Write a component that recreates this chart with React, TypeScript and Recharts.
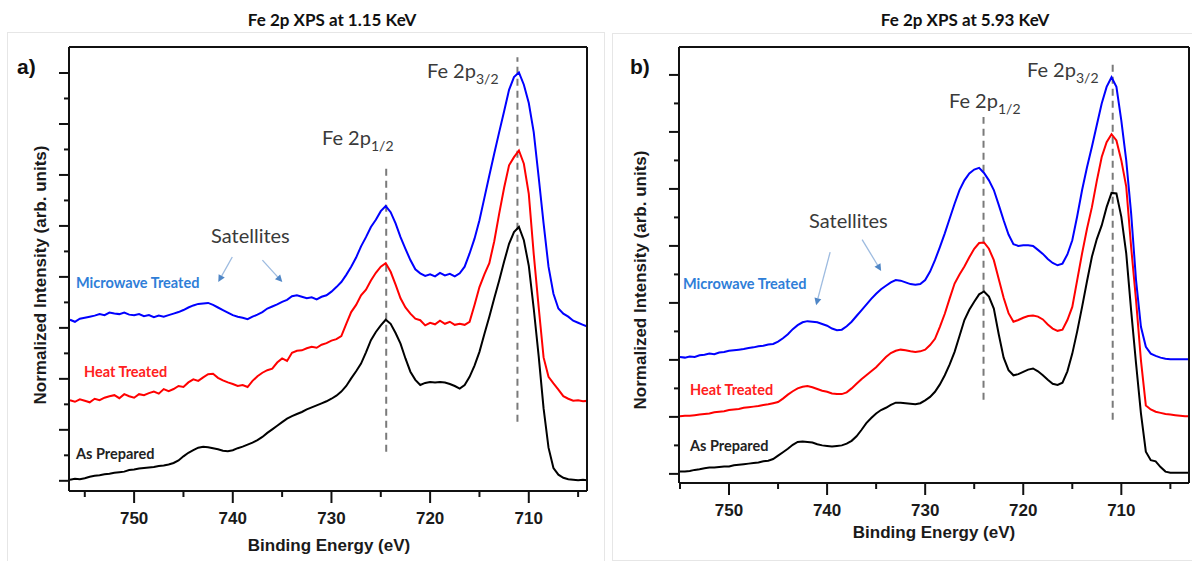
import { LineChart, Line, XAxis, YAxis, ReferenceLine } from 'recharts'

// panel a) : Fe 2p XPS at 1.15 KeV
const energyA = [
  756.5, 756, 755.5, 755, 754.5, 754, 753.5, 753, 752.5, 752,
  751.5, 751, 750.5, 750, 749.5, 749, 748.5, 748, 747.5, 747,
  746.5, 746, 745.5, 745, 744.5, 744, 743.5, 743, 742.5, 742,
  741.5, 741, 740.5, 740, 739.5, 739, 738.5, 738, 737.5, 737,
  736.5, 736, 735.5, 735, 734.5, 734, 733.5, 733, 732.5, 732,
  731.5, 731, 730.5, 730, 729.5, 729, 728.5, 728, 727.5, 727,
  726.5, 726, 725.5, 725, 724.5, 724, 723.5, 723, 722.5, 722,
  721.5, 721, 720.5, 720, 719.5, 719, 718.5, 718, 717.5, 717,
  716.5, 716, 715.5, 715, 714.5, 714, 713.5, 713, 712.5, 712,
  711.5, 711, 710.5, 710, 709.5, 709, 708.5, 708, 707.5, 707,
  706.5, 706, 705.5, 705, 704.5, 704,
]
const microwaveA = [
  3.16, 3.12, 3.18, 3.2, 3.22, 3.24, 3.27, 3.25, 3.3, 3.28,
  3.27, 3.3, 3.26, 3.25, 3.27, 3.23, 3.25, 3.21, 3.24, 3.22,
  3.25, 3.28, 3.31, 3.35, 3.4, 3.44, 3.47, 3.48, 3.49, 3.45,
  3.4, 3.35, 3.3, 3.25, 3.22, 3.2, 3.17, 3.22, 3.26, 3.31,
  3.38, 3.42, 3.46, 3.51, 3.55, 3.62, 3.64, 3.61, 3.58, 3.6,
  3.56, 3.61, 3.64, 3.71, 3.8, 3.9, 4.04, 4.2, 4.38, 4.6,
  4.78, 4.98, 5.12, 5.29, 5.39, 5.27, 5.05, 4.78, 4.55, 4.33,
  4.15, 4.07, 4.02, 4.05, 4.01, 4.08, 4.03, 4.06, 4.01, 4.07,
  4.2, 4.46, 4.75, 5.11, 5.55, 5.99, 6.42, 6.84, 7.25, 7.67,
  7.92, 8.01, 7.77, 7.41, 6.84, 5.96, 5.05, 4.2, 3.67, 3.38,
  3.28, 3.22, 3.14, 3.1, 3.06, 3.02,
]
const heatA = [
  1.58, 1.55, 1.6, 1.57, 1.54, 1.61, 1.58, 1.63, 1.66, 1.68,
  1.62, 1.7, 1.66, 1.63, 1.7, 1.68, 1.72, 1.75, 1.71, 1.8,
  1.76, 1.8, 1.86, 1.84, 1.93, 1.99, 1.96, 2.03, 2.09, 2.1,
  2.02, 1.97, 1.93, 1.9, 1.86, 1.88, 1.84, 1.96, 2.05, 2.12,
  2.17, 2.2, 2.32, 2.4, 2.35, 2.51, 2.55, 2.56, 2.6, 2.63,
  2.61, 2.67, 2.7, 2.75, 2.78, 2.84, 3.08, 3.31, 3.45, 3.64,
  3.75, 3.93, 4.08, 4.2, 4.27, 4.1, 3.85, 3.58, 3.4, 3.28,
  3.18, 3.15, 3.05, 3.1, 3.07, 3.14, 3.08, 3.12, 3.06, 3.08,
  3.06, 3.12, 3.45, 3.8, 4.05, 4.27, 4.7, 5.24, 5.75, 6.19,
  6.35, 6.48, 6.22, 5.63, 4.45, 3.41, 2.42, 2.04, 1.91, 1.79,
  1.66, 1.61, 1.57, 1.58, 1.56, 1.57,
]
const preparedA = [
  0.02, 0.04, 0.03, 0.05, 0.08, 0.1, 0.11, 0.13, 0.14, 0.16,
  0.17, 0.18, 0.21, 0.22, 0.24, 0.25, 0.26, 0.27, 0.29, 0.3,
  0.32, 0.35, 0.4, 0.48, 0.55, 0.6, 0.65, 0.67, 0.66, 0.64,
  0.62, 0.59, 0.58, 0.6, 0.64, 0.67, 0.71, 0.75, 0.8, 0.86,
  0.94, 1.01, 1.08, 1.15, 1.22, 1.27, 1.31, 1.35, 1.4, 1.44,
  1.48, 1.52, 1.56, 1.61, 1.67, 1.75, 1.86, 2.01, 2.15, 2.3,
  2.52, 2.76, 2.92, 3.05, 3.16, 3.08, 2.9, 2.69, 2.4, 2.14,
  1.98, 1.88, 1.92, 1.94, 1.93, 1.94, 1.93, 1.9, 1.86, 1.81,
  1.88, 2.04, 2.26, 2.53, 2.88, 3.22, 3.58, 3.93, 4.3, 4.65,
  4.88, 4.98, 4.72, 4.22, 3.38, 2.45, 1.42, 0.65, 0.25, 0.12,
  0.06, 0.03, 0.02, 0.01, 0.02, 0.01,
]

// panel b) : Fe 2p XPS at 5.93 KeV
const energyB = [
  755, 754.5, 754, 753.5, 753, 752.5, 752, 751.5, 751, 750.5,
  750, 749.5, 749, 748.5, 748, 747.5, 747, 746.5, 746, 745.5,
  745, 744.5, 744, 743.5, 743, 742.5, 742, 741.5, 741, 740.5,
  740, 739.5, 739, 738.5, 738, 737.5, 737, 736.5, 736, 735.5,
  735, 734.5, 734, 733.5, 733, 732.5, 732, 731.5, 731, 730.5,
  730, 729.5, 729, 728.5, 728, 727.5, 727, 726.5, 726, 725.5,
  725, 724.5, 724, 723.5, 723, 722.5, 722, 721.5, 721, 720.5,
  720, 719.5, 719, 718.5, 718, 717.5, 717, 716.5, 716, 715.5,
  715, 714.5, 714, 713.5, 713, 712.5, 712, 711.5, 711, 710.5,
  710, 709.5, 709, 708.5, 708, 707.5, 707, 706.5, 706, 705.5,
  705, 704.5, 704, 703.5, 703,
]
const microwaveB = [
  2.05, 2.04, 2.06, 2.05, 2.08, 2.09, 2.11, 2.1, 2.13, 2.14,
  2.16, 2.17, 2.18, 2.19, 2.21, 2.22, 2.24, 2.25, 2.27, 2.28,
  2.32, 2.38, 2.45, 2.54, 2.61, 2.66, 2.68, 2.67, 2.66, 2.63,
  2.6, 2.55, 2.52, 2.53, 2.59, 2.67, 2.77, 2.87, 2.97, 3.07,
  3.16, 3.24, 3.3, 3.36, 3.4, 3.39, 3.36, 3.33, 3.32, 3.33,
  3.4, 3.55, 3.75, 3.98, 4.22, 4.48, 4.74, 4.98, 5.15, 5.27,
  5.34, 5.37, 5.28, 5.15, 4.98, 4.72, 4.45, 4.2, 4.03, 4.0,
  4.01, 4.01, 4.0, 3.93, 3.86, 3.77, 3.7, 3.66, 3.69, 3.85,
  4.1, 4.52, 4.98, 5.38, 5.74, 6.12, 6.5, 6.79, 6.96, 6.79,
  6.2, 5.5, 4.57, 3.4, 2.58, 2.23, 2.11, 2.07, 2.04, 2.02,
  2.01, 2.01, 2.01, 2.01, 2.01,
]
const heatB = [
  1.01, 1.02, 1.02, 1.03, 1.04, 1.05, 1.06, 1.08, 1.09, 1.1,
  1.12, 1.13, 1.14, 1.16, 1.17, 1.18, 1.19, 1.21, 1.22, 1.24,
  1.26, 1.32, 1.39, 1.45, 1.5, 1.53, 1.54, 1.52, 1.49, 1.46,
  1.44, 1.41, 1.4, 1.4, 1.43, 1.5, 1.58, 1.66, 1.73, 1.8,
  1.87, 1.96, 2.05, 2.12, 2.16, 2.18, 2.17, 2.15, 2.14, 2.15,
  2.18, 2.26, 2.37, 2.58, 2.81, 3.08, 3.34, 3.5, 3.64, 3.8,
  3.95, 4.05, 4.06, 3.95, 3.75, 3.42, 3.09, 2.82, 2.67, 2.7,
  2.74, 2.77, 2.78, 2.76, 2.71, 2.62, 2.55, 2.51, 2.53, 2.7,
  2.93, 3.4, 3.87, 4.3, 4.68, 5.14, 5.56, 5.82, 5.96, 5.85,
  5.5, 5.04, 3.98, 3.05, 1.99, 1.2, 1.13, 1.09, 1.07, 1.05,
  1.04, 1.03, 1.02, 1.01, 1.01,
]
const preparedB = [
  0.04, 0.04, 0.05, 0.07, 0.08, 0.1, 0.11, 0.11, 0.12, 0.13,
  0.13, 0.15, 0.16, 0.17, 0.18, 0.19, 0.2, 0.22, 0.23, 0.26,
  0.32, 0.38, 0.44, 0.51, 0.56, 0.57, 0.56, 0.55, 0.52, 0.5,
  0.49, 0.48, 0.49, 0.5, 0.53, 0.58, 0.66, 0.77, 0.89, 0.98,
  1.06, 1.12, 1.16, 1.21, 1.25, 1.25, 1.24, 1.23, 1.22, 1.24,
  1.29, 1.35, 1.44, 1.57, 1.73, 1.92, 2.14, 2.42, 2.7, 2.88,
  3.02, 3.15, 3.2, 3.11, 2.9, 2.45, 2.04, 1.82, 1.73, 1.75,
  1.79, 1.83, 1.85, 1.8, 1.73, 1.65, 1.58, 1.56, 1.6, 1.8,
  2.11, 2.5, 2.93, 3.38, 3.81, 4.12, 4.36, 4.68, 4.93, 4.92,
  4.51, 3.87, 2.87, 1.94, 1.06, 0.39, 0.24, 0.22, 0.12, 0.04,
  0.02, 0.02, 0.02, 0.02, 0.02,
]

const xTicks = [755, 750, 745, 740, 735, 730, 725, 720, 715, 710, 705]
const yTicksA = [0, 0.5, 1, 1.5, 2, 2.5, 3, 3.5, 4, 4.5, 5, 5.5, 6, 6.5, 7, 7.5, 8]
const yTicksB = [0, 0.5, 1, 1.5, 2, 2.5, 3, 3.5, 4, 4.5, 5, 5.5, 6, 6.5, 7]

// dashed peak markers (energy, bottom, top) and satellite arrows
const peakLinesA = [{ e: 724.45, y0: 0.57, y1: 6.2 }, { e: 711.15, y0: 1.16, y1: 8.31 }]
const peakLinesB = [{ e: 724.05, y0: 1.3, y1: 6.26 }, { e: 710.88, y0: 0.95, y1: 7.26 }]
const arrowsA = [
  { e0: 740.05, y0: 4.39, e1: 741.47, y1: 3.9 },
  { e0: 737.0, y0: 4.33, e1: 734.98, y1: 3.9 },
]
const arrowsB = [
  { e0: 739.69, y0: 3.89, e1: 741.12, y1: 2.96 },
  { e0: 736.43, y0: 4.11, e1: 734.49, y1: 3.56 },
]

const toRows = (e: number[], mw: number[], ht: number[], ap: number[]) =>
  e.map((v, i) => ({ e: v, mw: mw[i], ht: ht[i], ap: ap[i] }))

const AXIS = '#111'
const ARIAL = '"Liberation Sans", Arial, sans-serif'
const CAL = 'Lato, "Open Sans", sans-serif'

const XTick = (props: any) => {
  const { x, y, payload } = props
  const major = payload.value % 10 === 0
  return (
    <g>
      <line x1={x} x2={x} y1={y} y2={y + (major ? 12 : 6)} stroke={AXIS} strokeWidth={2} />
      {major && (
        <text x={x} y={y + 33} textAnchor="middle" fontSize={17} fontWeight="bold" fontFamily={ARIAL} fill="#1a1a1a">
          {payload.value}
        </text>
      )}
    </g>
  )
}

const YTick = (props: any) => {
  const { x, y, payload } = props
  const major = Number.isInteger(payload.value)
  return <line x1={x - (major ? 10 : 5)} x2={x} y1={y} y2={y} stroke={AXIS} strokeWidth={2} />
}

const Arrow = (p: any) => {
  const { x1, y1, x2, y2 } = p
  const a = Math.atan2(y2 - y1, x2 - x1)
  const L = 7
  const W = 3.5
  const bx = x2 - L * Math.cos(a)
  const by = y2 - L * Math.sin(a)
  const pts = `${x2},${y2} ${bx - W * Math.sin(a)},${by + W * Math.cos(a)} ${bx + W * Math.sin(a)},${by - W * Math.cos(a)}`
  return (
    <g>
      <line x1={x1} y1={y1} x2={bx} y2={by} stroke="#9dbbe0" strokeWidth={1.3} />
      <polygon points={pts} fill="#4f86c6" />
    </g>
  )
}

function Panel(props: {
  rows: any[]
  xDomain: [number, number]
  yDomain: [number, number]
  yTicks: number[]
  peaks: { e: number; y0: number; y1: number }[]
  arrows: { e0: number; y0: number; e1: number; y1: number }[]
  width: number
  margin: { top: number; right: number; bottom: number; left: number }
}) {
  const { rows, xDomain, yDomain, yTicks, peaks, arrows, width, margin } = props
  return (
    <LineChart width={width} height={561} data={rows} margin={margin}>
      <XAxis
        dataKey="e"
        type="number"
        domain={xDomain}
        reversed
        allowDataOverflow
        ticks={xTicks}
        interval={0}
        height={1}
        tickSize={0}
        tickMargin={0}
        tickLine={false}
        tick={<XTick />}
        axisLine={{ stroke: AXIS, strokeWidth: 2 }}
      />
      <XAxis
        xAxisId="top"
        orientation="top"
        type="number"
        domain={xDomain}
        height={1}
        tick={false}
        tickLine={false}
        axisLine={{ stroke: AXIS, strokeWidth: 2 }}
      />
      <YAxis
        type="number"
        domain={yDomain}
        allowDataOverflow
        ticks={yTicks}
        interval={0}
        width={1}
        tickSize={0}
        tickMargin={0}
        tickLine={false}
        tick={<YTick />}
        axisLine={{ stroke: AXIS, strokeWidth: 2 }}
      />
      <YAxis
        yAxisId="right"
        orientation="right"
        type="number"
        domain={yDomain}
        width={1}
        tick={false}
        tickLine={false}
        axisLine={{ stroke: AXIS, strokeWidth: 2 }}
      />
      {peaks.map((p, i) => (
        <ReferenceLine
          key={`pk-${i}`}
          segment={[{ x: p.e, y: p.y0 }, { x: p.e, y: p.y1 }]}
          stroke="#7a7a7a"
          strokeWidth={2}
          strokeDasharray="7 5"
        />
      ))}
      {arrows.map((a, i) => (
        <ReferenceLine
          key={`ar-${i}`}
          segment={[{ x: a.e0, y: a.y0 }, { x: a.e1, y: a.y1 }]}
          shape={Arrow}
        />
      ))}
      <Line dataKey="ap" stroke="#000000" strokeWidth={2} dot={false} isAnimationActive={false} />
      <Line dataKey="ht" stroke="#ff0000" strokeWidth={2} dot={false} isAnimationActive={false} />
      <Line dataKey="mw" stroke="#0000ff" strokeWidth={2} dot={false} isAnimationActive={false} />
    </LineChart>
  )
}

const abs = (left: number, top: number, extra: any = {}) => ({ position: 'absolute' as const, left, top, ...extra })

const FeLabel = ({ left, top, sub }: { left: number; top: number; sub: string }) => (
  <div style={abs(left, top, { fontFamily: CAL, fontSize: 20, color: '#3a3a3a', whiteSpace: 'nowrap', lineHeight: '20px' })}>
    Fe 2p<span style={{ fontSize: 14, position: 'relative', top: 6 }}>{sub}</span>
  </div>
)

const SeriesLabel = ({ left, top, color, text }: { left: number; top: number; color: string; text: string }) => (
  <div style={abs(left, top, { fontFamily: CAL, fontWeight: 700, fontSize: 14.5, color, whiteSpace: 'nowrap', lineHeight: '16px' })}>
    {text}
  </div>
)

const YLabel = ({ cx, cy }: { cx: number; cy: number }) => (
  <div
    style={abs(cx, cy, {
      transform: 'translate(-50%, -50%) rotate(-90deg)',
      fontFamily: ARIAL,
      fontWeight: 'bold',
      fontSize: 17,
      color: '#1a1a1a',
      whiteSpace: 'nowrap',
    })}
  >
    Normalized Intensity (arb. units)
  </div>
)

const XLabel = ({ cx, cy }: { cx: number; cy: number }) => (
  <div
    style={abs(cx, cy, {
      transform: 'translate(-50%, -50%)',
      fontFamily: ARIAL,
      fontWeight: 'bold',
      fontSize: 17,
      color: '#1a1a1a',
      whiteSpace: 'nowrap',
    })}
  >
    Binding Energy (eV)
  </div>
)

const Title = ({ cx, text }: { cx: number; text: string }) => (
  <div
    style={abs(cx, 19, {
      transform: 'translate(-50%, -50%)',
      fontFamily: CAL,
      fontWeight: 700,
      fontSize: 17,
      color: '#111',
      whiteSpace: 'nowrap',
    })}
  >
    {text}
  </div>
)

export default function App() {
  const rowsA = toRows(energyA, microwaveA, heatA, preparedA)
  const rowsB = toRows(energyB, microwaveB, heatB, preparedB)
  return (
    <div style={{ position: 'absolute', left: 0, top: 0, width: 1192, height: 561, background: '#fff', overflow: 'hidden' }}>
      {/* card borders */}
      <div style={abs(7, 32, { width: 596, height: 540, border: '1px solid #e6e6e6' })} />
      <div style={abs(612, 33, { width: 590, height: 526, border: '1px solid #e6e6e6' })} />

      <Title cx={332} text="Fe 2p XPS at 1.15 KeV" />
      <Title cx={965} text="Fe 2p XPS at 5.93 KeV" />

      <div style={abs(0, 0)}>
        <Panel
          rows={rowsA}
          xDomain={[704.1, 756.6]}
          yDomain={[-0.2, 8.51]}
          yTicks={yTicksA}
          peaks={peakLinesA}
          arrows={arrowsA}
          width={600}
          margin={{ top: 46, right: 12, bottom: 69, left: 68 }}
        />
      </div>
      <div style={abs(600, 0)}>
        <Panel
          rows={rowsB}
          xDomain={[703.1, 755.1]}
          yDomain={[-0.16, 7.49]}
          yTicks={yTicksB}
          peaks={peakLinesB}
          arrows={arrowsB}
          width={592}
          margin={{ top: 46, right: 2, bottom: 77, left: 78 }}
        />
      </div>

      <div style={abs(17, 55, { fontFamily: ARIAL, fontWeight: 'bold', fontSize: 21, color: '#111' })}>a)</div>
      <div style={abs(630, 55, { fontFamily: ARIAL, fontWeight: 'bold', fontSize: 21, color: '#111' })}>b)</div>

      <YLabel cx={41} cy={275} />
      <YLabel cx={641} cy={280} />
      <XLabel cx={329} cy={546} />
      <XLabel cx={934} cy={533} />

      <FeLabel left={427} top={60} sub="3/2" />
      <FeLabel left={322} top={127} sub="1/2" />
      <FeLabel left={1027} top={59} sub="3/2" />
      <FeLabel left={949} top={90} sub="1/2" />

      <div style={abs(211, 225, { fontFamily: CAL, fontSize: 20, color: '#3a3a3a', lineHeight: '20px' })}>Satellites</div>
      <div style={abs(809, 210, { fontFamily: CAL, fontSize: 20, color: '#3a3a3a', lineHeight: '20px' })}>Satellites</div>

      <SeriesLabel left={76} top={275} color="#2f7ed8" text="Microwave Treated" />
      <SeriesLabel left={84} top={364} color="#ff2020" text="Heat Treated" />
      <SeriesLabel left={76} top={446} color="#222" text="As Prepared" />
      <SeriesLabel left={683} top={276} color="#2f7ed8" text="Microwave Treated" />
      <SeriesLabel left={690} top={382} color="#ff2020" text="Heat Treated" />
      <SeriesLabel left={690} top={438} color="#222" text="As Prepared" />
    </div>
  )
}
